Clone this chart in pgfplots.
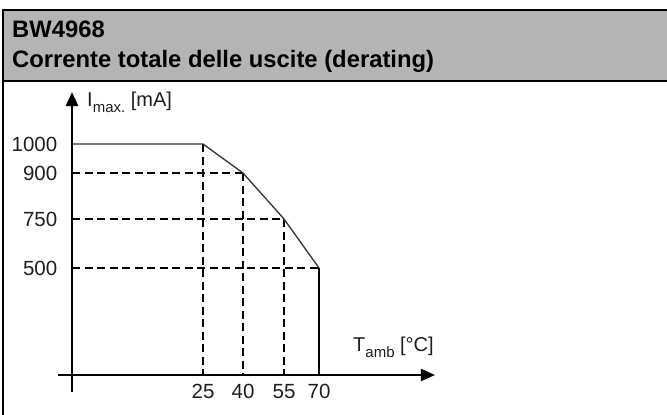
\documentclass[border=0pt]{standalone}
\usepackage{pgfplots}
\pgfplotsset{compat=1.18}
\usepackage{fontspec}
\setmainfont{Liberation Sans}
\usetikzlibrary{arrows.meta}
\definecolor{headgray}{RGB}{180,180,180}
\definecolor{txt}{RGB}{30,30,30}
\begin{document}
\begin{tikzpicture}[x=1bp,y=1bp]
\path[use as bounding box] (0,0) rectangle (667,414);
% header band and frame
\fill[headgray] (3,333) rectangle (670,404);
\draw[line width=2.2bp] (3,-5) -- (3,404) -- (670,404);
\draw[line width=2.2bp] (3,333) -- (670,333);
\node[anchor=base west, inner sep=0pt, font=\fontsize{23.8bp}{28bp}\selectfont\bfseries] at (12,377) {BW4968};
\node[anchor=base west, inner sep=0pt, font=\fontsize{23.8bp}{28bp}\selectfont\bfseries] at (12,347) {Corrente totale delle uscite (derating)};
\begin{axis}[
  x=1bp, y=1bp, scale only axis,
  anchor=south west, at={(58bp,22bp)},
  x coord trafo/.code={\pgfmathparse{ifthenelse(#1<25,(#1)*5.24,ifthenelse(#1<40,131+((#1)-25)*2.6667,ifthenelse(#1<55,171+((#1)-40)*2.7333,212+((#1)-55)*2.3333)))}},
  y coord trafo/.code={\pgfmathparse{ifthenelse(#1<500,(#1)*0.214,ifthenelse(#1<750,107+((#1)-500)*0.196,ifthenelse(#1<900,156+((#1)-750)*0.306667,202+((#1)-900)*0.29)))}},
  xmin=-2.672, xmax=119.7,
  ymin=-79.44, ymax=1179.3,
  enlargelimits=false,
  clip=false,
  axis lines=middle,
  x axis line style={line width=2bp, -{Triangle[length=14bp,width=12bp]}},
  y axis line style={line width=2.7bp, -{Triangle[length=14bp,width=12bp]}},
  xtick={25,40,55,70}, xticklabels={25,40,55,70},
  ytick={500,750,900,1000}, yticklabels={500,750,900,1000},
  major tick length=0pt,
  /pgf/number format/assume math mode=true,
  tick label style={font=\fontsize{20.5bp}{24bp}\selectfont, text=txt, inner sep=0pt},
  xticklabel style={anchor=base, yshift=-23bp},
  yticklabel style={anchor=east, xshift=-14.5bp},
  every axis x label/.style={at={(axis cs:84.57,112.1)}, anchor=base west, inner sep=0pt, font=\fontsize{20bp}{24bp}\selectfont, text=txt},
  every axis y label/.style={at={(axis cs:2.863,1131)}, anchor=base west, inner sep=0pt, font=\fontsize{20bp}{24bp}\selectfont, text=txt},
  xlabel={T\raisebox{-6bp}{\fontsize{15bp}{17bp}\selectfont amb} [°C]},
  ylabel={I\raisebox{-6bp}{\fontsize{15bp}{17bp}\selectfont max.} [mA]},
]
% dashed guide lines
\addplot[black, line width=2bp, dash pattern=on 8bp off 4.5bp] coordinates {(0,900) (40,900)};
\addplot[black, line width=2bp, dash pattern=on 8bp off 4.5bp] coordinates {(0,750) (55,750)};
\addplot[black, line width=2bp, dash pattern=on 8bp off 4.5bp] coordinates {(0,500) (70,500)};
\addplot[black, line width=2bp, dash pattern=on 8bp off 4.5bp] coordinates {(25,1000) (25,0)};
\addplot[black, line width=2bp, dash pattern=on 8bp off 4.5bp] coordinates {(40,900) (40,0)};
\addplot[black, line width=2bp, dash pattern=on 8bp off 4.5bp] coordinates {(55,750) (55,0)};
% derating curve
\addplot[black!80, line width=1.3bp] coordinates {(0,1000) (25,1000) (40,900) (55,750) (70,500)};
\addplot[black, line width=2bp] coordinates {(70,500) (70,0)};
\end{axis}
\end{tikzpicture}
\end{document}
